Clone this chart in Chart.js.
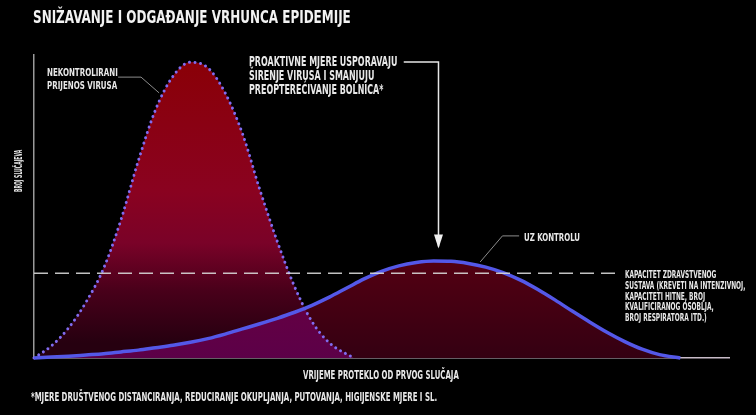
<!DOCTYPE html>
<html>
<head>
<meta charset="utf-8">
<script src="https://cdn.jsdelivr.net/npm/chart.js@4/dist/chart.umd.min.js"></script>
<style>
  html, body { margin: 0; padding: 0; background: #000; }
  #wrap { position: relative; width: 756px; height: 415px; background: #000; overflow: hidden;
          font-family: 'Liberation Sans Narrow', 'DejaVu Sans Condensed', sans-serif; color: #e8e8e8; }
  #wrap canvas { position: absolute; left: 0; top: 0; }
  .t { position: absolute; white-space: nowrap; line-height: 1; transform-origin: 0 0; font-weight: bold; }
  #title { left: 33px; top: 8px; font-size: 18px; color: #f2f2f2; transform: scaleX(0.74); }
</style>
</head>
<body>
<div id="wrap">
  <canvas id="chart" width="756" height="415"></canvas>
  <div class="t" id="title">SNIŽAVANJE I ODGAĐANJE VRHUNCA EPIDEMIJE</div>
  <div class="t" style="left:47px; top:66px; font-size:10.5px; line-height:12.5px; transform:scaleX(0.75);">NEKONTROLIRANI<br>PRIJENOS VIRUSA</div>
  <div class="t" style="left:249px; top:55px; font-size:13.5px; line-height:13.8px; transform:scaleX(0.655);">PROAKTIVNE MJERE USPORAVAJU<br>ŠIRENJE VIRUSA I SMANJUJU<br>PREOPTEREĆIVANJE BOLNICA*</div>
  <div class="t" style="left:524px; top:232px; font-size:10.5px; transform:scaleX(0.74);">UZ KONTROLU</div>
  <div class="t" style="left:625px; top:270px; font-size:10px; line-height:10.8px; transform:scaleX(0.65);">KAPACITET ZDRAVSTVENOG<br>SUSTAVA (KREVETI NA INTENZIVNOJ,<br>KAPACITETI HITNE, BROJ<br>KVALIFICIRANOG OSOBLJA,<br>BROJ RESPIRATORA ITD.)</div>
  <div class="t" style="left:13px; top:192px; font-size:11px; transform:rotate(-90deg) scaleX(0.46);">BROJ SLUČAJEVA</div>
  <div class="t" style="left:303px; top:369px; font-size:12px; transform:scaleX(0.645);">VRIJEME PROTEKLO OD PRVOG SLUČAJA</div>
  <div class="t" style="left:31px; top:391px; font-size:12px; transform:scaleX(0.648);">*MJERE DRUŠTVENOG DISTANCIRANJA, REDUCIRANJE OKUPLJANJA, PUTOVANJA, HIGIJENSKE MJERE I SL.</div>
</div>
<script>
// vrijeme (x) i broj slučajeva (y), očitano sa slike
const redX = [0, 2.5, 5, 7.5, 10, 12.5, 15, 17.5, 20, 22.5, 25, 27.5, 30, 32.5, 35, 37.5, 40, 42.5, 46];
const redY = [0, 4.0, 10, 18.5, 29.5, 45.5, 65, 82, 93, 97.6, 95.8, 87.5, 74, 55.5, 38.5, 23.5, 12, 5, 0];

const blueX = [0, 2.5, 5, 7.5, 10, 12.5, 15, 17.5, 20, 22.5, 25, 27.5, 30, 32.5, 35, 37.5, 40, 42.5, 45, 47.5,
  50, 52.5, 55, 57.5, 60, 62.5, 65, 67.5, 70, 72.5, 75, 77.5, 80, 82.5, 85, 87.5, 90, 93];
const blueY = [0, 0.3, 0.6, 1, 1.4, 2, 2.6, 3.4, 4.2, 5.2, 6.4, 7.9, 9.6, 11.3, 13.1, 15.1, 17.4, 20.1, 23.1, 26.1,
  28.6, 30.4, 31.5, 32, 31.9, 31.2, 30, 28.2, 25.7, 22.6, 19.1, 15.4, 11.8, 8.4, 5.4, 2.9, 1.1, 0];

// kapacitet zdravstvenog sustava
const capacity = 28;
const capacityX = [0, 84.4];

// strelice / linije do oznaka (u jedinicama osi)
const arrowPath = [[53.2, 97.7], [58.2, 97.7], [58.2, 36.8]];
const leaderRed = [[12.1, 92.7], [15.4, 92.7], [18, 87.5]];
const leaderBlue = [[69.8, 40.3], [67.4, 40.3], [64.2, 31.7]];

const pts = (xs, ys) => xs.map((x, i) => ({ x: x, y: ys[i] }));

const annotations = {
  id: 'annotations',
  afterDatasetsDraw(chart) {
    const { ctx, scales: { x, y } } = chart;
    const path = (p) => {
      ctx.beginPath();
      p.forEach((q, i) => {
        const px = x.getPixelForValue(q[0]), py = y.getPixelForValue(q[1]);
        if (i === 0) ctx.moveTo(px, py); else ctx.lineTo(px, py);
      });
      ctx.stroke();
    };
    ctx.save();
    ctx.lineWidth = 1;
    ctx.strokeStyle = '#8c8c8c';
    path(leaderRed);
    path(leaderBlue);
    ctx.strokeStyle = '#e6e6e6';
    ctx.lineWidth = 1.5;
    path(arrowPath);
    // vrh strelice
    const tip = arrowPath[arrowPath.length - 1];
    const tx = x.getPixelForValue(tip[0]), ty = y.getPixelForValue(tip[1]);
    ctx.fillStyle = '#f0f0f0';
    ctx.beginPath();
    ctx.moveTo(tx - 4.5, ty - 12);
    ctx.lineTo(tx + 4.5, ty - 12);
    ctx.lineTo(tx, ty + 2);
    ctx.closePath();
    ctx.fill();
    ctx.restore();
  }
};

const chart = new Chart(document.getElementById('chart'), {
  type: 'line',
  data: {
    datasets: [
      { // 0: površina ispod plave krivulje
        data: pts(blueX, blueY), order: 5, borderWidth: 0, pointRadius: 0,
        fill: 'origin', backgroundColor: '#45000f', cubicInterpolationMode: 'monotone'
      },
      { // 1: preklapanje (ispod obje krivulje)
        data: pts(redX, redY), order: 4, borderWidth: 0, pointRadius: 0,
        fill: 'origin', backgroundColor: '#5f0045', cubicInterpolationMode: 'monotone'
      },
      { // 2: crvena površina iznad plave
        data: pts(redX, redY), order: 3, borderWidth: 0, pointRadius: 0,
        fill: { target: 0, above: '#800010', below: 'rgba(0,0,0,0)' }, cubicInterpolationMode: 'monotone'
      },
      { // 3: točkasti rub crvene krivulje
        data: pts(redX, redY), order: 2, pointRadius: 0, fill: false, clip: false,
        borderColor: 'rgb(128,108,240)', borderWidth: 3, borderDash: [0.01, 5.6], borderCapStyle: 'round',
        cubicInterpolationMode: 'monotone'
      },
      { // 4: plava krivulja
        data: pts(blueX, blueY), order: 1, pointRadius: 0, fill: false, clip: false,
        borderColor: 'rgb(84,88,232)', borderWidth: 3.5, cubicInterpolationMode: 'monotone'
      },
      { // 5: kapacitet
        data: capacityX.map(v => ({ x: v, y: capacity })), order: 0, pointRadius: 0, fill: false,
        borderColor: 'rgba(215,215,215,0.9)', borderWidth: 1.5, borderDash: [14, 7]
      }
    ]
  },
  options: {
    responsive: false,
    animation: false,
    devicePixelRatio: 1,
    layout: { padding: { left: 26, right: 27, top: 55, bottom: 49 } },
    plugins: { legend: { display: false }, tooltip: { enabled: false } },
    scales: {
      x: {
        type: 'linear', min: 0, max: 100,
        grid: { display: false }, ticks: { display: false },
        border: { color: '#c9bcc9', width: 1.5 }
      },
      y: {
        min: 0, max: 100,
        grid: { display: false }, ticks: { display: false },
        border: { color: '#9a9a9a', width: 1.5 }
      }
    }
  },
  plugins: [annotations]
});

// gradijenti prema stvarnom području grafa
const area = chart.chartArea;
const c = chart.ctx;
const redGrad = c.createLinearGradient(0, area.top, 0, area.bottom);
redGrad.addColorStop(0, '#8a0006');
redGrad.addColorStop(0.45, '#8a0220');
redGrad.addColorStop(0.62, '#7a0228');
redGrad.addColorStop(0.78, '#48001a');
redGrad.addColorStop(0.95, '#260010');
const mixGrad = c.createLinearGradient(0, area.top, 0, area.bottom);
mixGrad.addColorStop(0.7, '#6a0040');
mixGrad.addColorStop(1, '#5c0048');
const blueGrad = c.createLinearGradient(0, area.top, 0, area.bottom);
blueGrad.addColorStop(0.65, '#560012');
blueGrad.addColorStop(1, '#340012');
chart.data.datasets[0].backgroundColor = blueGrad;
chart.data.datasets[1].backgroundColor = mixGrad;
chart.data.datasets[2].fill.above = redGrad;
chart.update('none');
</script>
</body>
</html>
